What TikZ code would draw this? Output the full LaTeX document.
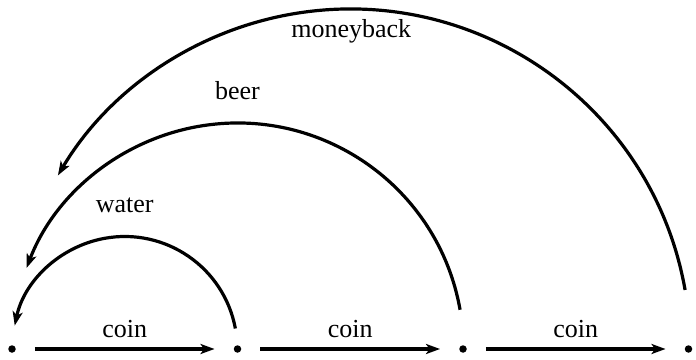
\documentclass[tikz,border=0pt]{standalone}
\usepackage{fontspec}
\setmainfont{Liberation Serif}
\usetikzlibrary{arrows.meta,calc}

\begin{document}
\begin{tikzpicture}[
        x=1pt, y=1pt,
        every node/.style={font=\fontsize{26}{30}\selectfont},
        state/.style={circle,fill,inner sep=0pt,minimum size=7.5pt},
        trans/.style={line width=3.2pt,-{Stealth[length=14pt,width=10pt,inset=3.5pt]}},
        lbl/.style={anchor=base,inner sep=0pt}
    ]
    \useasboundingbox (0,0) rectangle (696,359);
    \node[state] (s0) at (12,10) {};
    \node[state] (s1) at (237.5,10) {};
    \node[state] (s2) at (463,10) {};
    \node[state] (s3) at (688.5,10) {};
    \coordinate (mw) at ($(s0)!.5!(s1)$);
    \coordinate (mb) at ($(s0)!.5!(s2)$);
    \coordinate (mm) at ($(s0)!.5!(s3)$);
    \draw[trans,shorten <=19pt,shorten >=19pt] (s0) -- (s1)
        node[lbl,midway,yshift=12pt] (coin1) {coin};
    \draw[trans,shorten <=19pt,shorten >=19pt] (s1) -- (s2)
        node[lbl,midway,yshift=12pt] (coin2) {coin};
    \draw[trans,shorten <=19pt,shorten >=19pt] (s2) -- (s3)
        node[lbl,midway,yshift=12pt] (coin3) {coin};
    \draw[trans] (mw) ++(10.5:112.5) arc[start angle=10.5,end angle=168,radius=112.5];
    \draw[trans] (mb) ++(10:226) arc[start angle=10,end angle=159,radius=226];
    \draw[trans] (mm) ++(10:340) arc[start angle=10,end angle=149.3,radius=340];
    \node[lbl] (water) at ($(mw)+(0,136)$) {water};
    \node[lbl] (beer) at ($(mb)+(0,249)$) {beer};
    \node[lbl] (moneyback) at ($(mm)+(1,311)$) {moneyback};
\end{tikzpicture}
\end{document}
